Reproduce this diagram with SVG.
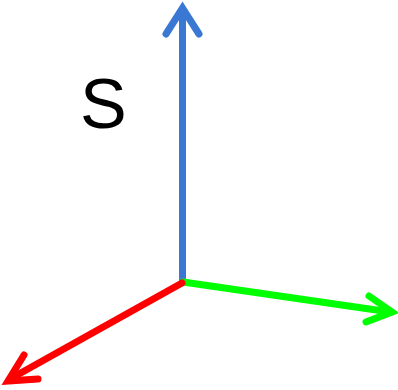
<svg xmlns="http://www.w3.org/2000/svg" width="398" height="390" viewBox="0 0 398 390">
<style>
.ax{fill:none;stroke-width:7;stroke-linecap:round;stroke-linejoin:miter}
.lbl{font-family:"Liberation Sans",Arial,sans-serif;font-size:70px;fill:#000}
</style>
<rect width="398" height="390" fill="#fff"/>
<g id="connectors">
<g id="axis-y"><line class="ax" stroke="#3a78d4" x1="182.5" y1="280" x2="182.5" y2="10"/><polyline class="ax" stroke="#3a78d4" points="166,34 182.5,8 199,34"/></g>
<g id="axis-x"><line class="ax" stroke="#00ff00" x1="183" y1="282" x2="390" y2="312"/><polyline class="ax" stroke="#00ff00" points="369,296 392,312 366,322"/></g>
<g id="axis-z"><line class="ax" stroke="#ff0000" x1="182" y1="283" x2="10" y2="379"/><polyline class="ax" stroke="#ff0000" points="24,355 8,381 38,379"/></g>
</g>
<g id="label-s"><text class="lbl" x="80" y="128">S</text></g>
</svg>
